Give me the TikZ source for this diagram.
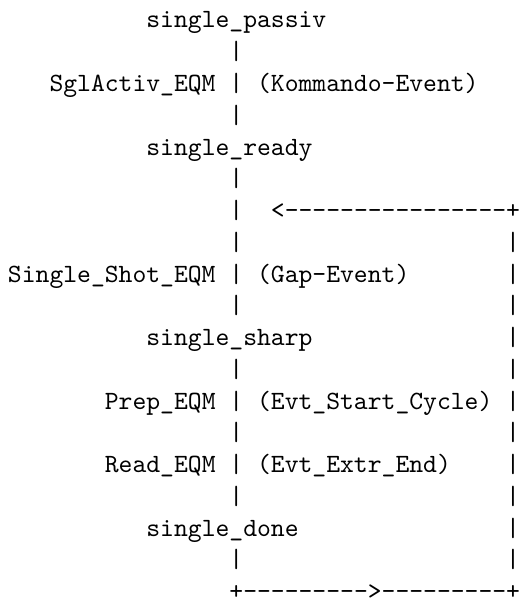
\documentclass[tikz,border=0pt]{standalone}
% 10pt typewriter, magnified, so the glyphs keep their 10pt design weight
\newcommand\asciifont{\fontsize{10pt}{12pt}\ttfamily}
\begin{document}
\begin{tikzpicture}[x=13.84pt, y=-31.75pt,
  cell/.style={anchor=base west, inner sep=0pt, outer sep=0pt,
               font=\asciifont, scale=2.636, transform shape}]
\useasboundingbox (-8pt,28pt) rectangle (519pt,-577pt);

% states
\node[cell] (passiv) at (10,0)  {single\_passiv};
\node[cell] (ready)  at (10,4)  {single\_ready};
\node[cell] (sharp)  at (10,10) {single\_sharp};
\node[cell] (done)   at (10,16) {single\_done};

% transition actions (left) and events (right)
\node[cell] (actEqm)   at (3,2)   {SglActiv\_EQM};
\node[cell] (cmdEvt)   at (18,2)  {(Kommando-Event)};
\node[cell] (shotEqm)  at (0,8)   {Single\_Shot\_EQM};
\node[cell] (gapEvt)   at (18,8)  {(Gap-Event)};
\node[cell] (prepEqm)  at (7,12)  {Prep\_EQM};
\node[cell] (startEvt) at (18,12) {(Evt\_Start\_Cycle)};
\node[cell] (readEqm)  at (7,14)  {Read\_EQM};
\node[cell] (endEvt)   at (18,14) {(Evt\_Extr\_End)};

% main vertical line
\foreach \r in {1,2,3,5,6,7,8,9,11,12,13,14,15,17}
  \node[cell] (main\r) at (16,\r) {|};

% return loop: right vertical line
\foreach \r in {7,...,17}
  \node[cell] (loop\r) at (36,\r) {|};

% return loop: top edge with arrow
\node[cell] (topArrow) at (19,6) {<};
\foreach \c in {20,...,35}
  \node[cell] (top\c) at (\c,6) {-};
\node[cell] (topCorner) at (36,6) {+};

% return loop: bottom edge with arrow
\node[cell] (botLeft) at (16,18) {+};
\foreach \c in {17,...,25,27,28,...,35}
  \node[cell] (bot\c) at (\c,18) {-};
\node[cell] (botArrow) at (26,18) {>};
\node[cell] (botRight) at (36,18) {+};
\end{tikzpicture}
\end{document}
